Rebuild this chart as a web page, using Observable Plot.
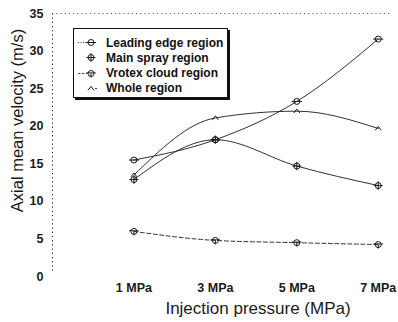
<!DOCTYPE html>
<html>
<head>
<meta charset="utf-8">
<script src="https://cdn.jsdelivr.net/npm/d3@7"></script>
<script src="https://cdn.jsdelivr.net/npm/@observablehq/plot@0.6"></script>
<style>
  html, body { margin: 0; padding: 0; background: #fff; }
  #wrap { position: relative; width: 398px; height: 322px; font-family: "Liberation Sans", Arial, sans-serif; }
  #legend { position: absolute; left: 73px; top: 28px; width: 153px; height: 68px; border: 1.5px solid #111;
            box-shadow: 2px 2px 0 #111; background: #fff; color: #111; font-size: 12px; font-weight: bold; }
  .row { position: absolute; left: 0; height: 15px; display: flex; align-items: center; white-space: nowrap; }
  .row svg { width: 30px; height: 15px; }
  .row span { margin-left: 2px; }
</style>
</head>
<body>
<div id="wrap"></div>
<script>
const pressures = [1, 3, 5, 7];
const pressureLabels = ["1 MPa", "3 MPa", "5 MPa", "7 MPa"];
const yTicks = [0, 5, 10, 15, 20, 25, 30, 35];
const seriesNames = ["Leading edge region", "Main spray region", "Vrotex cloud region", "Whole region"];
const leadingEdge = [15.5, 18.2, 23.3, 31.6];
const mainSpray = [12.9, 18.2, 14.7, 12.1];
const vortexCloud = [6.0, 4.8, 4.5, 4.25];
const wholeRegion = [13.5, 21.1, 22.0, 19.7];

const ink = "#1a1a1a";
const symCircleBar = {draw(c, s) { const r = Math.sqrt(s / Math.PI); c.moveTo(r, 0); c.arc(0, 0, r, 0, 2 * Math.PI); c.moveTo(-r * 1.7, 0); c.lineTo(r * 1.7, 0); }};
const symCirclePlus = {draw(c, s) { const r = Math.sqrt(s / Math.PI); c.moveTo(r, 0); c.arc(0, 0, r, 0, 2 * Math.PI); c.moveTo(-r * 1.5, 0); c.lineTo(r * 1.5, 0); c.moveTo(0, -r * 1.4); c.lineTo(0, r * 1.4); }};
const symCircleTick = {draw(c, s) { const r = Math.sqrt(s / Math.PI); c.moveTo(r, 0); c.arc(0, 0, r, 0, 2 * Math.PI); c.moveTo(-r * 1.6, -r * 0.2); c.lineTo(r * 1.6, -r * 0.2); c.moveTo(0, 0); c.lineTo(0, r * 1.3); }};
const symCaret = {draw(c, s) { const r = Math.sqrt(s / Math.PI); c.moveTo(-r, r * 0.6); c.lineTo(0, -r * 0.7); c.lineTo(r, r * 0.6); }};

const seriesValues = [leadingEdge, mainSpray, vortexCloud, wholeRegion];
const symbols = [symCircleBar, symCirclePlus, symCircleTick, symCaret];
const dashes = ["none", "none", "4,2.5", "none"];
const rows = seriesNames.flatMap((name, k) => pressures.map((p, i) => ({series: name, k, p, v: seriesValues[k][i]})));

const lineMarks = seriesNames.map((name, k) =>
  Plot.line(rows.filter(d => d.k === k), {x: "p", y: "v", curve: "monotone-x", stroke: ink, strokeWidth: 0.9, strokeDasharray: dashes[k]}));
const dotMarks = seriesNames.map((name, k) =>
  Plot.dot(rows.filter(d => d.k === k), {x: "p", y: "v", r: 3, symbol: symbols[k], stroke: ink, strokeWidth: 1, fill: "none"}));

const chart = Plot.plot({
  width: 398, height: 322,
  marginLeft: 52, marginRight: 6, marginTop: 13, marginBottom: 46,
  style: {fontFamily: "'Liberation Sans', Arial, sans-serif", color: ink, background: "#fff"},
  x: {domain: [-1, 7.35]},
  y: {domain: [0, 35]},
  marks: [
    Plot.ruleX([-1], {y1: 0.7, y2: 35, stroke: ink, strokeDasharray: "1.2,3", strokeWidth: 1}),
    Plot.ruleY([35], {x1: -1, x2: 7.35, stroke: ink, strokeDasharray: "1.2,3", strokeWidth: 1, strokeOpacity: 0.7}),
    Plot.axisY({ticks: yTicks, tickSize: 0, tickPadding: 9, fontSize: 12.5, fontWeight: "bold", label: null}),
    Plot.axisX({ticks: pressures, tickFormat: (d) => pressureLabels[pressures.indexOf(d)], tickSize: 0, tickPadding: 7, fontSize: 12.5, fontWeight: "bold", label: null}),
    Plot.text(["Axial mean velocity (m/s)"], {frameAnchor: "left", textAnchor: "middle", lineAnchor: "middle", rotate: -90, dx: -35, dy: -24.5, fontSize: 16.5, fill: ink}),
    Plot.text(["Injection pressure (MPa)"], {frameAnchor: "bottom", textAnchor: "middle", lineAnchor: "middle", dy: 32, dx: 35.5, fontSize: 17, fill: ink}),
    ...lineMarks,
    ...dotMarks
  ]
});

const wrap = document.getElementById("wrap");
wrap.appendChild(chart);
const legend = document.createElement("div");
legend.id = "legend";
seriesNames.forEach((name, k) => {
  const row = document.createElement("div");
  row.className = "row";
  row.style.top = (6 + k * 15.3) + "px";
  const svg = d3.create("svg").attr("viewBox", "0 0 30 15");
  const sym = d3.symbol().type(symbols[k]).size(Math.PI * 9);
  if (k !== 1 && k !== 3) svg.append("line").attr("x1", 4).attr("x2", 13).attr("y1", 7.5).attr("y2", 7.5).attr("stroke", ink).attr("stroke-width", 0.8).attr("stroke-dasharray", k === 0 ? "1,1.5" : "2.5,1.5");
  if (k === 3) svg.append("line").attr("x1", 21).attr("x2", 23).attr("y1", 7.5).attr("y2", 7.5).attr("stroke", ink).attr("stroke-width", 0.8);
  svg.append("path").attr("d", sym()).attr("transform", "translate(17,7.5)").attr("fill", "none").attr("stroke", ink).attr("stroke-width", 1);
  row.appendChild(svg.node());
  const span = document.createElement("span");
  span.textContent = name;
  row.appendChild(span);
  legend.appendChild(row);
});
wrap.appendChild(legend);
</script>
</body>
</html>
